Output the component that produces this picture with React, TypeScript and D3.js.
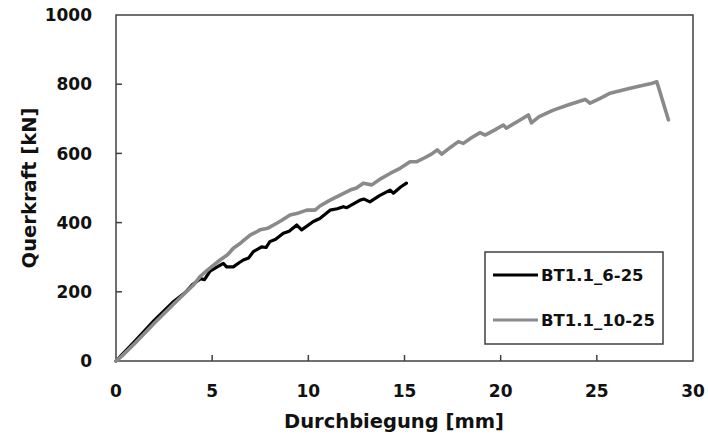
import React from "react";
import * as d3 from "d3";

const seriesNames = ["BT1.1_6-25", "BT1.1_10-25"];
const seriesColors = ["#000000", "#8a8a8a"];

const blackX = [0, 0.3, 1.0, 2.0, 3.0, 3.6, 4.0, 4.4, 4.6, 4.89, 5.2, 5.58, 5.75, 6.1, 6.4, 6.62, 6.9, 7.14, 7.57, 7.8, 8.0, 8.3, 8.7, 9.0, 9.4, 9.65, 10.26, 10.6, 11.13, 11.5, 11.82, 12.0, 12.69, 12.9, 13.2, 13.7, 14.25, 14.42, 14.8, 15.1];
const blackY = [0, 18, 58, 118, 172, 198, 222, 238, 235, 260, 270, 282, 272, 272, 284, 292, 298, 316, 330, 328, 345, 352, 369, 375, 393, 379, 403, 412, 436, 440, 446, 443, 465, 468, 460, 478, 494, 485, 503, 514];

const grayX = [0, 0.3, 1, 2, 3, 4, 4.37, 4.8, 5.41, 5.8, 6.1, 6.5, 6.97, 7.2, 7.49, 7.9, 8.36, 8.6, 9.05, 9.5, 9.92, 10.35, 10.6, 11.13, 11.6, 12.17, 12.5, 12.86, 13.3, 13.8, 14.25, 14.77, 15.29, 15.64, 16.0, 16.4, 16.7, 16.94, 17.4, 17.8, 18.06, 18.5, 18.93, 19.19, 19.7, 20.14, 20.3, 20.9, 21.44, 21.6, 22.0, 22.74, 23.5, 24.39, 24.65, 25.2, 25.69, 26.73, 27.77, 28.12, 28.72];
const grayY = [0, 14, 52, 110, 165, 218, 244, 265, 292, 307, 326, 342, 364, 370, 379, 384, 398, 406, 422, 428, 436, 436, 448, 465, 478, 494, 500, 514, 509, 528, 542, 557, 576, 576, 586, 598, 610, 598, 618, 634, 629, 646, 660, 653, 668, 682, 673, 693, 711, 688, 706, 725, 740, 756, 745, 760, 774, 788, 801, 807, 697];

const xTicks = [0, 5, 10, 15, 20, 25, 30];
const yTicks = [0, 200, 400, 600, 800, 1000];

const xTitle = "Durchbiegung [mm]";
const yTitle = "Querkraft [kN]";

const FONT = "'DejaVu Sans', sans-serif";

export default function App() {
  const W = 708, H = 439;
  const left = 116, right = 693, top = 15, bottom = 361;
  const x = d3.scaleLinear().domain([0, 30]).range([left, right]);
  const y = d3.scaleLinear().domain([0, 1000]).range([bottom, top]);
  const line = d3.line<[number, number]>().x(d => x(d[0])).y(d => y(d[1]));
  const black = blackX.map((v, i) => [v, blackY[i]] as [number, number]);
  const gray = grayX.map((v, i) => [v, grayY[i]] as [number, number]);
  const axisColor = "#404040";
  const lx = 485, ly = 252, lw = 178, lh = 92;
  return (
    <svg width={W} height={H} style={{ position: "absolute", left: 0, top: 0, background: "#fff" }}>
      <rect x={0} y={0} width={W} height={H} fill="#fff" />
      <rect x={left} y={top} width={right - left} height={bottom - top} fill="none" stroke={axisColor} strokeWidth={1.5} />
      {yTicks.map(t => (
        <g key={"y" + t}>
          {t > 0 && t < 1000 && <line x1={left} x2={left + 6} y1={y(t)} y2={y(t)} stroke={axisColor} strokeWidth={1.5} />}
          <text x={92} y={y(t)} dy="0.36em" textAnchor="end" fontFamily={FONT} fontWeight="bold" fontSize={17} fill="#111">{t}</text>
        </g>
      ))}
      {xTicks.map(t => (
        <g key={"x" + t}>
          {t > 0 && t < 30 && <line x1={x(t)} x2={x(t)} y1={bottom} y2={bottom - 6} stroke={axisColor} strokeWidth={1.5} />}
          <text x={x(t)} y={397} textAnchor="middle" fontFamily={FONT} fontWeight="bold" fontSize={17} fill="#111">{t}</text>
        </g>
      ))}
      <path d={line(black) || ""} fill="none" stroke={seriesColors[0]} strokeWidth={3.2} strokeLinejoin="round" strokeLinecap="round" />
      <path d={line(gray) || ""} fill="none" stroke={seriesColors[1]} strokeWidth={3.6} strokeLinejoin="round" strokeLinecap="round" />
      <text x={394} y={428} textAnchor="middle" fontFamily={FONT} fontWeight="bold" fontSize={19.5} fill="#111">{xTitle}</text>
      <text transform="translate(36,188) rotate(-90)" textAnchor="middle" fontFamily={FONT} fontWeight="bold" fontSize={19.5} fill="#111">{yTitle}</text>
      <rect x={lx} y={ly} width={lw} height={lh} fill="#fff" stroke={axisColor} strokeWidth={1.5} />
      {seriesNames.map((n, i) => (
        <g key={n}>
          <line x1={493} x2={538} y1={275 + i * 45} y2={275 + i * 45} stroke={seriesColors[i]} strokeWidth={3.2} />
          <text x={541} y={275 + i * 45} dy="0.36em" fontFamily={FONT} fontWeight="bold" fontSize={16.5} fill="#111">{n}</text>
        </g>
      ))}
    </svg>
  );
}
